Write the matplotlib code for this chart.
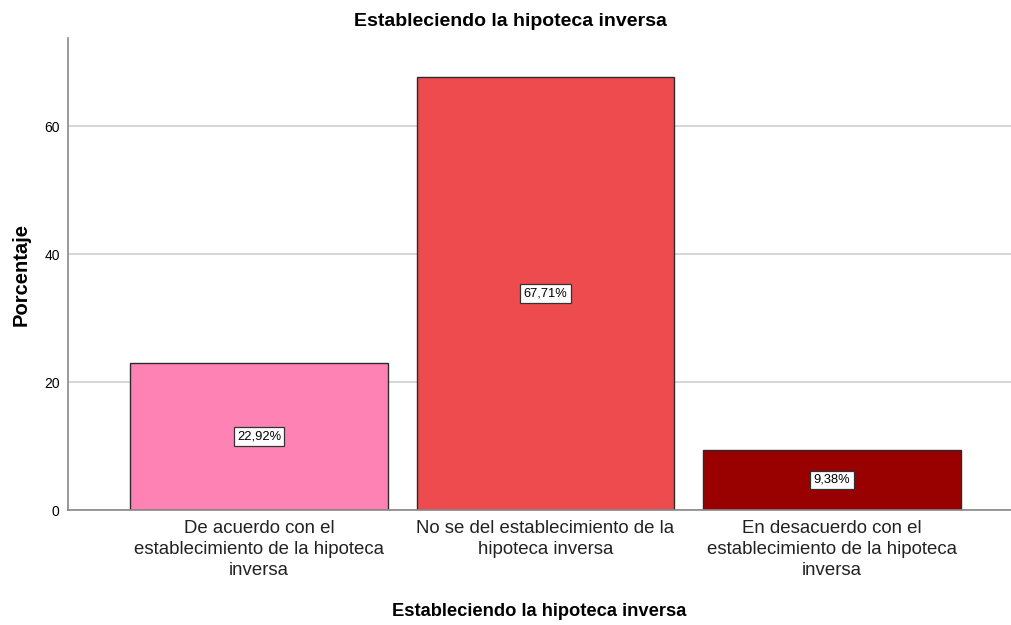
import matplotlib.pyplot as plt

categories = ["De acuerdo con el\nestablecimiento de la hipoteca\ninversa",
              "No se del establecimiento de la\nhipoteca inversa",
              "En desacuerdo con el\nestablecimiento de la hipoteca\ninversa"]
percentages = [22.92, 67.71, 9.38]
bar_colors = ["#FF82B4", "#EE4B4F", "#990000"]
yticks = [0, 20, 40, 60]

plt.rcParams['font.family'] = ['Liberation Sans', 'DejaVu Sans']

fig = plt.figure(figsize=(10.11, 6.25), dpi=100)
ax = fig.add_axes([0.0673, 0.184, 0.9327, 0.755])

x = range(len(categories))
ax.set_axisbelow(True)
ax.yaxis.grid(True, color="#CFCFCF", linewidth=1.2)
bars = ax.bar(x, percentages, width=0.9, color=bar_colors,
              edgecolor="#2B2B2B", linewidth=1.0)

for xi, v in zip(x, percentages):
    ax.text(xi, v / 2, f"{v:.2f}%".replace(".", ","), ha="center", va="center",
            fontsize=9.3,
            bbox=dict(boxstyle="square,pad=0.25", facecolor="white",
                      edgecolor="#333333", linewidth=0.9))

ax.set_xlim(-0.667, 2.625)
ax.set_ylim(0, 73.75)
ax.set_yticks(yticks)
ax.set_xticks(list(x))
ax.set_xticklabels(categories, fontsize=13.4, color="#222222", linespacing=1.33)
ax.tick_params(axis="both", length=0)
ax.tick_params(axis="y", labelsize=10, pad=6)
ax.tick_params(axis="x", pad=7)

for side in ["top", "right"]:
    ax.spines[side].set_visible(False)
for side in ["left", "bottom"]:
    ax.spines[side].set_color("#888888")
    ax.spines[side].set_linewidth(1.2)

fig.text(510 / 1011, 1 - 22 / 625, "Estableciendo la hipoteca inversa",
         fontsize=14, fontweight="bold", ha="center", va="center")
ax.set_xlabel("Estableciendo la hipoteca inversa", fontsize=13.2, fontweight="bold", labelpad=17)
ax.set_ylabel("Porcentaje", fontsize=14.5, fontweight="bold", labelpad=10)

fig.savefig("out.png", dpi=100)
